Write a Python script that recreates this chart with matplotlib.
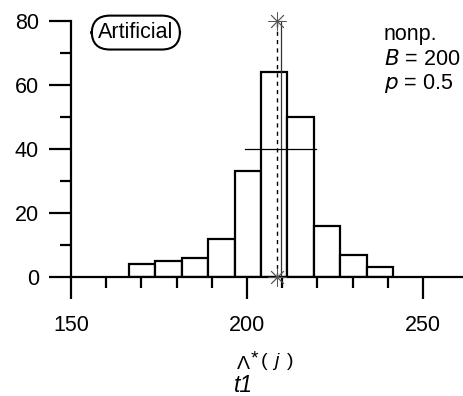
import numpy as np
import matplotlib
matplotlib.use("Agg")
import matplotlib.pyplot as plt

plt.rcParams["font.family"] = ["Liberation Sans", "DejaVu Sans"]

# histogram of bootstrap replicates
bin_edges = [166.5, 174.0, 181.5, 189.0, 196.5, 204.0, 211.5, 219.0, 226.5, 234.0, 241.5]
counts = [4, 5, 6, 12, 33, 64, 50, 16, 7, 3]

t_hat = 208.4          # original estimate (dashed line, stars)
boot_mean = 209.6      # mean of replicates (solid line)
sd_range = [199.3, 219.6]
sd_level = 40

y_major = [0, 20, 40, 60, 80]
y_minor = [10, 30, 50, 70]
x_major = [150, 200, 250]
x_minor = [160, 170, 180, 190, 210, 220, 230, 240]

fig = plt.figure(figsize=(4.64, 3.96), dpi=100)
ax = fig.add_axes([0.153, 0.3005, 0.842, 0.647])

widths = np.diff(bin_edges)
ax.bar(bin_edges[:-1], counts, width=widths, align="edge",
       facecolor="white", edgecolor="black", linewidth=1.6, zorder=2)

ax.plot([t_hat, t_hat], [0, 80], color="black", lw=1.0, dashes=(3, 3), zorder=3, clip_on=False)
ax.plot([boot_mean, boot_mean], [0, 80], color="#333333", lw=0.9, zorder=3, clip_on=False)
ax.plot(sd_range, [sd_level, sd_level], color="black", lw=0.9, zorder=3)
ax.plot([t_hat, t_hat], [0, 80], linestyle="none", marker=(8, 2, 0), markersize=13,
        markeredgewidth=0.6, color="#555555", zorder=4, clip_on=False)

ax.set_xlim(150, 261)
ax.set_ylim(0, 80)
for side in ["top", "right"]:
    ax.spines[side].set_visible(False)
for side in ["left", "bottom"]:
    ax.spines[side].set_linewidth(1.6)

ax.set_xticks(x_major)
ax.set_xticks(x_minor, minor=True)
ax.set_yticks(y_major)
ax.set_yticks(y_minor, minor=True)
ax.tick_params(which="major", length=16, width=1.6, labelsize=15.5, direction="out")
ax.tick_params(which="minor", length=8, width=1.6, direction="out")
ax.tick_params(axis="x", which="major", pad=11)
ax.tick_params(axis="y", which="major", pad=7)

ax.text(0.166, 0.954, "Artificial", transform=ax.transAxes, fontsize=15.5,
        ha="center", va="center",
        bbox=dict(boxstyle="round,pad=0.3,rounding_size=0.85", facecolor="white",
                  edgecolor="black", linewidth=1.5))

ax.text(0.80, 0.925, "nonp.", transform=ax.transAxes, fontsize=15.5, va="baseline")
ax.text(0.80, 0.827, "$B$ = 200", transform=ax.transAxes, fontsize=15.5, va="baseline")
ax.text(0.80, 0.733, "$p$ = 0.5", transform=ax.transAxes, fontsize=15.5, va="baseline")

# x label: hat t1 with *(j) superscript
fig.text(243 / 464, 1 - 369 / 396, "\u039B", fontsize=14, ha="center", va="baseline")
fig.text(254 / 464, 1 - 359 / 396, "*", fontsize=14, ha="center", va="center")
fig.text(264 / 464, 1 - 361 / 396, "(", fontsize=14, ha="center", va="center")
fig.text(276 / 464, 1 - 361 / 396, "j", fontsize=14, ha="center", va="center", style="italic")
fig.text(290 / 464, 1 - 361 / 396, ")", fontsize=14, ha="center", va="center")
fig.text(244 / 464, 1 - 392 / 396, "t1", fontsize=16.5, ha="center", va="baseline",
         style="italic")

fig.savefig("out.png", dpi=100)
